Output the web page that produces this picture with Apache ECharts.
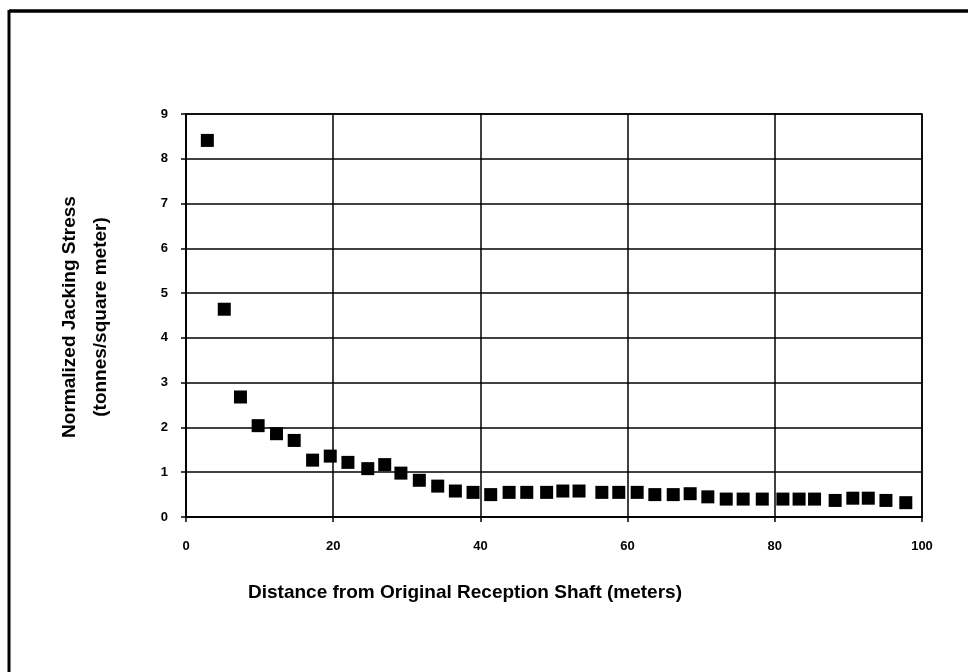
<!DOCTYPE html>
<html>
<head>
<meta charset="utf-8">
<script src="https://cdn.jsdelivr.net/npm/echarts@6/dist/echarts.min.js"></script>
<style>
html,body{margin:0;padding:0;background:#fff;}
#chart{width:968px;height:672px;}
</style>
</head>
<body>
<div id="chart"></div>
<script>
var distance = [2.9, 5.2, 7.4, 9.8, 12.3, 14.7, 17.2, 19.6, 22.0, 24.7,
  27.0, 29.2, 31.7, 34.2, 36.6, 39.0, 41.4, 43.9, 46.3, 49.0,
  51.2, 53.4, 56.5, 58.8, 61.3, 63.7, 66.2, 68.5, 70.9, 73.4,
  75.7, 78.3, 81.1, 83.3, 85.4, 88.2, 90.6, 92.7, 95.1, 97.8];
var stress = [8.41, 4.64, 2.68, 2.04, 1.86, 1.71, 1.27, 1.36, 1.22, 1.08,
  1.17, 0.98, 0.82, 0.69, 0.58, 0.55, 0.50, 0.55, 0.55, 0.55,
  0.58, 0.58, 0.55, 0.55, 0.55, 0.50, 0.50, 0.52, 0.45, 0.40,
  0.40, 0.40, 0.40, 0.40, 0.40, 0.37, 0.42, 0.42, 0.37, 0.32];
var xTitle = 'Distance from Original Reception Shaft (meters)';
var yTitle1 = 'Normalized Jacking Stress';
var yTitle2 = '(tonnes/square meter)';

var points = distance.map(function (d, i) { return [d, stress[i]]; });
var font = 'Liberation Sans, Arial, Helvetica, sans-serif';

var chart = echarts.init(document.getElementById('chart'), null, {renderer: 'canvas'});
chart.setOption({
  backgroundColor: '#fff',
  animation: false,
  grid: {left: 186, right: 46, top: 114, bottom: 155, show: true, borderColor: '#000', borderWidth: 1.5},
  xAxis: {
    type: 'value', min: 0, max: 100, interval: 20,
    axisLine: {show: true, lineStyle: {color: '#000', width: 1.5}},
    axisTick: {show: true, length: 5, lineStyle: {color: '#000', width: 1.5}},
    axisLabel: {color: '#000', fontFamily: font, fontWeight: 'bold', fontSize: 13, margin: 23},
    splitLine: {show: true, lineStyle: {color: '#000', width: 1.5}}
  },
  yAxis: {
    type: 'value', min: 0, max: 9, interval: 1,
    axisLine: {show: true, onZero: false, lineStyle: {color: '#000', width: 1.5}},
    axisTick: {show: true, length: 5, lineStyle: {color: '#000', width: 1.5}},
    axisLabel: {color: '#000', fontFamily: font, fontWeight: 'bold', fontSize: 13, margin: 18},
    splitLine: {show: true, lineStyle: {color: '#000', width: 1.5}}
  },
  series: [{
    type: 'scatter',
    symbol: 'rect',
    symbolSize: 13,
    itemStyle: {color: '#000', opacity: 1},
    data: points
  }],
  graphic: [
    {type: 'line', shape: {x1: 9, y1: 11, x2: 968, y2: 11}, style: {stroke: '#000', lineWidth: 3.5}},
    {type: 'line', shape: {x1: 9, y1: 10, x2: 9, y2: 672}, style: {stroke: '#000', lineWidth: 3}},
    {type: 'text', x: 465, y: 593, style: {text: xTitle, fontFamily: font, fontWeight: 'bold', fontSize: 19, fill: '#000', align: 'center', verticalAlign: 'middle'}},
    {type: 'text', x: 70, y: 317, rotation: Math.PI / 2, style: {text: yTitle1, fontFamily: font, fontWeight: 'bold', fontSize: 19, fill: '#000', align: 'center', verticalAlign: 'middle'}},
    {type: 'text', x: 101, y: 317, rotation: Math.PI / 2, style: {text: yTitle2, fontFamily: font, fontWeight: 'bold', fontSize: 19, fill: '#000', align: 'center', verticalAlign: 'middle'}}
  ]
});
</script>
</body>
</html>
